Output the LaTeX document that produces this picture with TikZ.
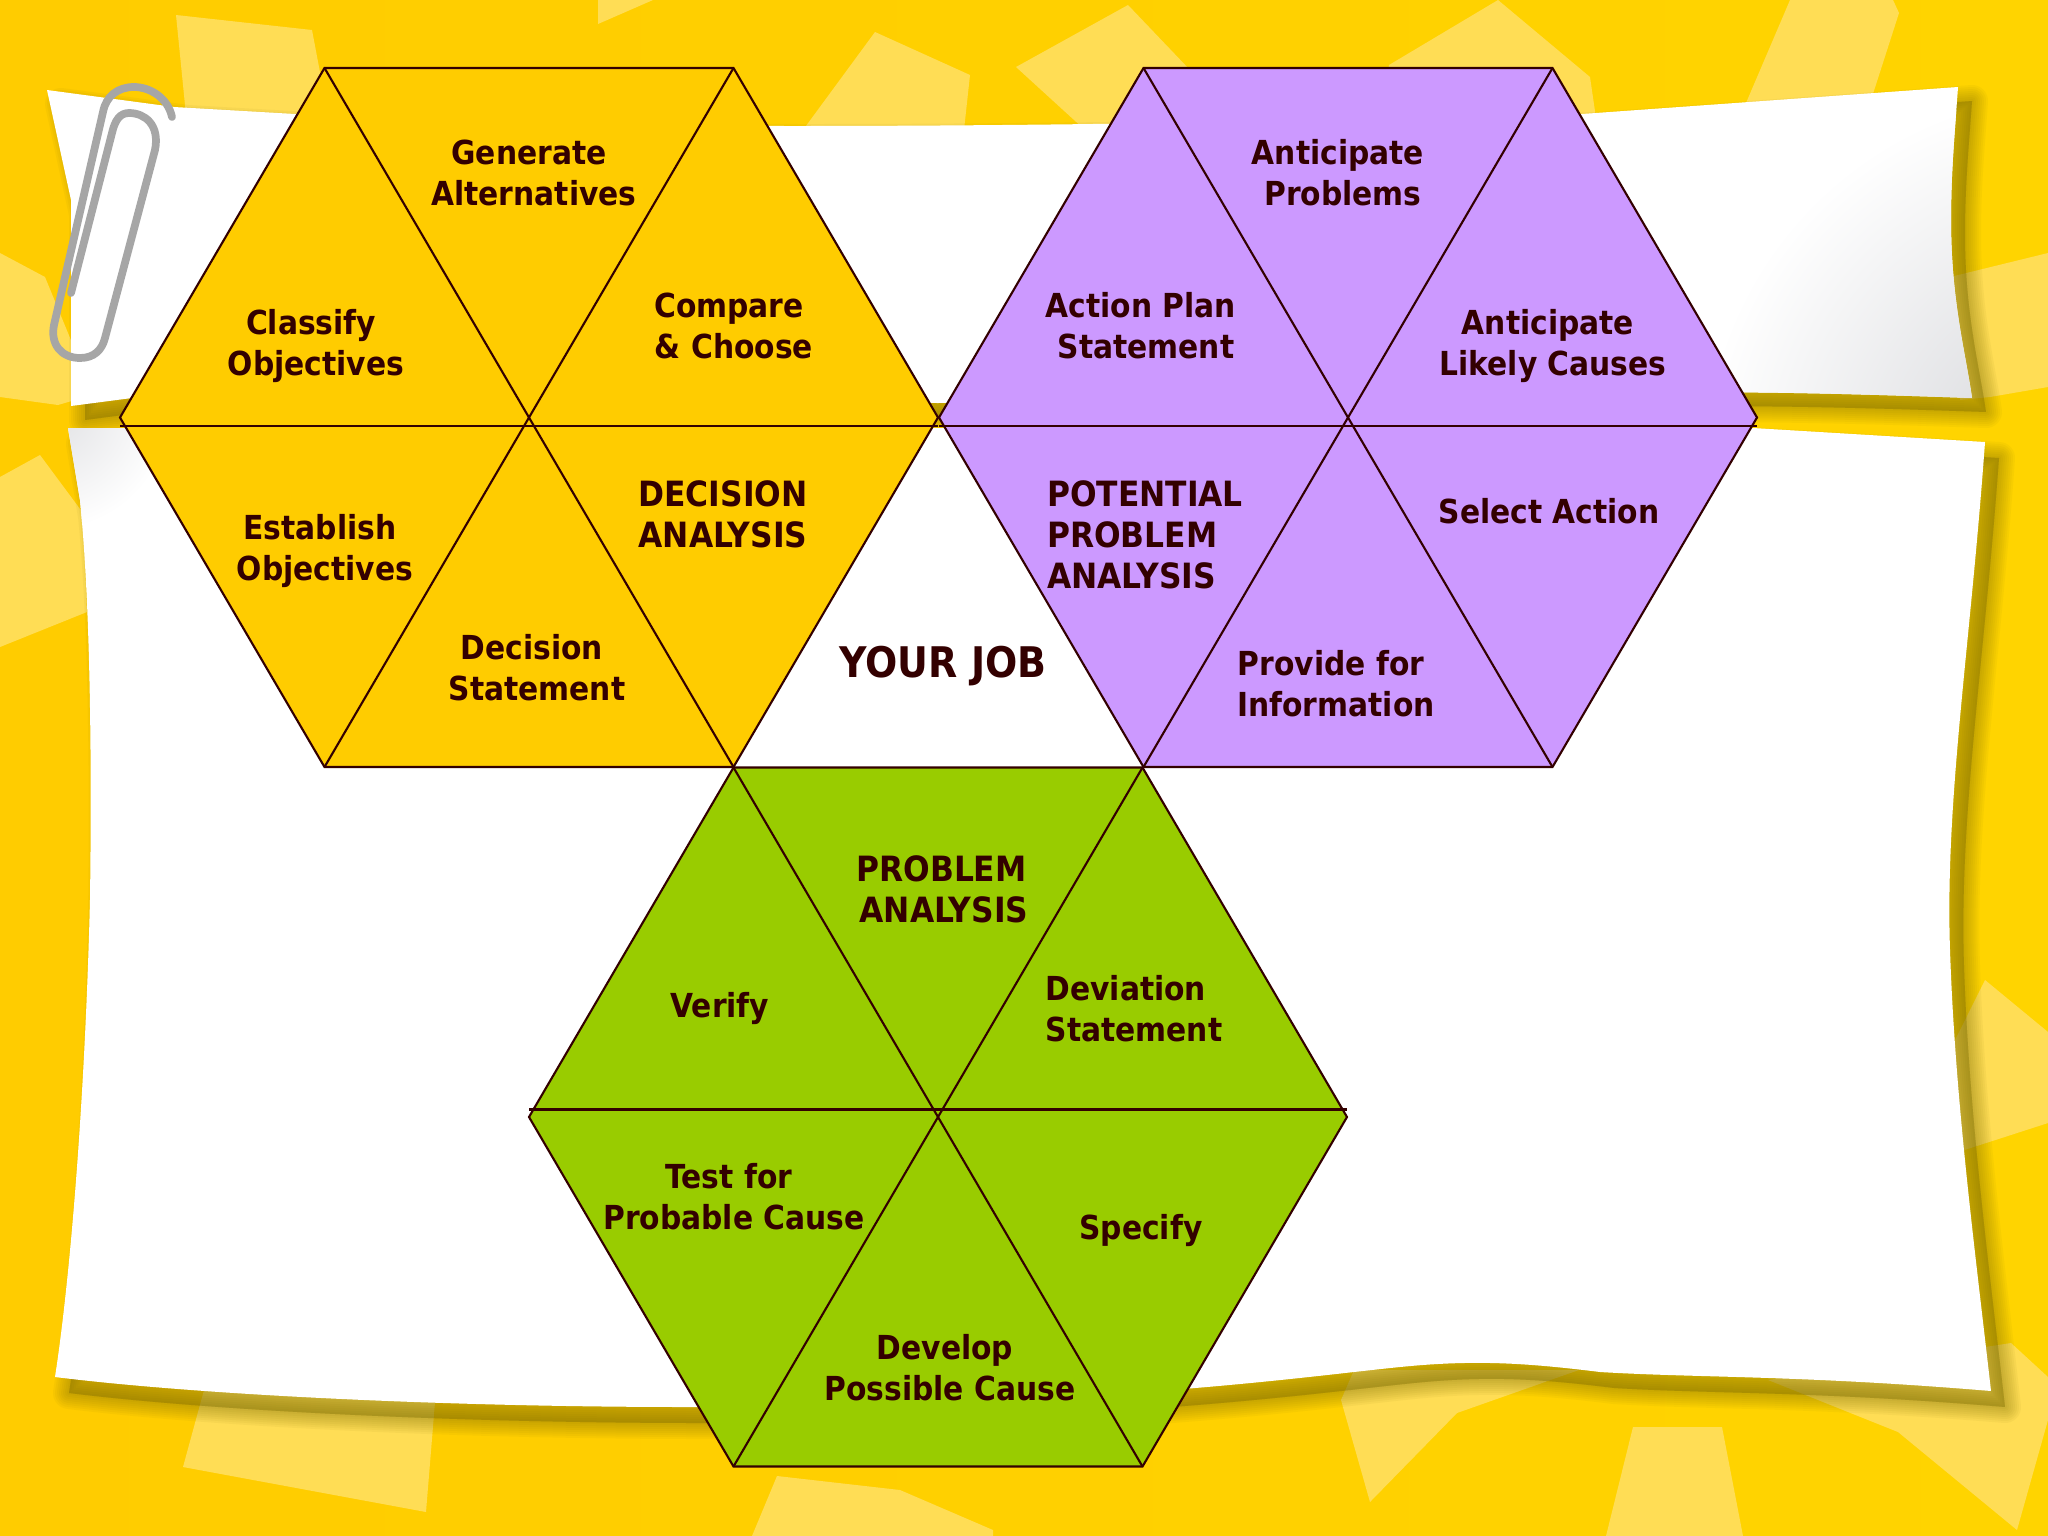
\documentclass[tikz,border=0pt]{standalone}
\usepackage{fontspec}
\setmainfont{DejaVu Sans Condensed}[BoldFont=DejaVu Sans Condensed Bold]
\definecolor{bgleft}{HTML}{FFCC00}
\definecolor{bgright}{HTML}{FFD400}
\definecolor{patch}{HTML}{FFDD55}
\definecolor{hexorange}{HTML}{FFCC00}
\definecolor{hexpurple}{HTML}{CC99FF}
\definecolor{hexgreen}{HTML}{99CC00}
\definecolor{labelink}{HTML}{330000}
\definecolor{clipgray}{HTML}{A6A6A6}
\definecolor{shadowtone}{HTML}{7A6A00}
\definecolor{paperdim}{HTML}{D3D4D8}
\newcommand{\papertop}{(47,90) -- (174,107) -- (295,114) .. controls (500,130) and (1000,130) .. (1582,114) -- (1958,87) .. controls (1955,130) and (1951,170) .. (1951,220) .. controls (1951,300) and (1965,350) .. (1972,398) .. controls (1800,392) and (1700,390) .. (1500,395) -- (938,403) -- (132,398) -- (71,406) -- (71,200) -- cycle}
\newcommand{\paperlow}{(68,428) -- (1753,428) -- (1985,442) .. controls (1970,650) and (1945,800) .. (1950,950) .. controls (1955,1100) and (1975,1250) .. (1991,1391) .. controls (1800,1375) and (1700,1378) .. (1600,1372) .. controls (1520,1362) and (1470,1360) .. (1400,1367) .. controls (1300,1377) and (1100,1407) .. (689,1407) .. controls (450,1407) and (200,1395) .. (55,1377) .. controls (70,1280) and (85,1100) .. (90,900) .. controls (92,750) and (90,600) .. (80,500) -- cycle}
\tikzset{
  patchshape/.style={fill=patch},
  paperedge/.style={draw=shadowtone,opacity=0.055,line join=round},
  hexline/.style={draw=labelink,line width=0.6pt},
  celltext/.style={font=\fontsize{9.4}{11.63}\selectfont\bfseries,text=labelink,align=center,inner sep=0pt},
  capstext/.style={celltext,font=\fontsize{9.9}{11.63}\selectfont\bfseries}
}
\newcommand{\lineoff}{\hspace*{0.1cm}}
\begin{document}
\begin{tikzpicture}[x=0.01cm,y=-0.01cm]
  \useasboundingbox (0,0) rectangle (2048,1536);
  \shade[left color=bgleft,right color=bgright] (0,0) rectangle (2048,1536);
  \fill[patchshape] (176,15) -- (312,30) -- (330,125) -- (187,125) -- cycle;
  \fill[patchshape] (598,0) -- (653,0) -- (598,24) -- cycle;
  \fill[patchshape] (875,32) -- (970,75) -- (964,130) -- (803,130) -- cycle;
  \fill[patchshape] (1128,5) -- (1190,70) -- (1190,130) -- (1085,130) -- (1016,67) -- cycle;
  \fill[patchshape] (1498,0) -- (1590,77) -- (1597,125) -- (1380,125) -- (1389,65) -- cycle;
  \fill[patchshape] (1790,0) -- (1893,0) -- (1899,13) -- (1871,100) -- (1743,110) -- cycle;
  \fill[patchshape] (1950,277) -- (2048,253) -- (2048,387) -- (1990,397) -- (1960,400) -- cycle;
  \fill[patchshape] (0,253) -- (45,277) -- (75,350) -- (75,400) -- (58,405) -- (0,397) -- cycle;
  \fill[patchshape] (0,477) -- (40,455) -- (83,513) -- (87,612) -- (0,647) -- cycle;
  \fill[patchshape] (1946,1058) -- (1985,980) -- (2048,1032) -- (2048,1123) -- (1946,1156) -- cycle;
  \fill[patchshape] (204,1390) -- (436,1390) -- (426,1512) -- (183,1467) -- cycle;
  \fill[patchshape] (777,1476) -- (900,1490) -- (993,1530) -- (993,1536) -- (752,1536) -- cycle;
  \fill[patchshape] (1341,1400) -- (1354,1370) -- (1579,1370) -- (1457,1413) -- (1370,1502) -- cycle;
  \fill[patchshape] (1633,1427) -- (1722,1427) -- (1743,1536) -- (1606,1536) -- cycle;
  \fill[patchshape] (1768,1380) -- (1898,1432) -- (2017,1530) -- (2048,1420) -- (2048,1377) -- (2011,1343) -- cycle;
  \foreach \w in {4,8,12,16,20,24,28,32} {
    \path[paperedge,fill=shadowtone,line width=\w*0.01cm,shift={(14,14)}] \papertop;
    \path[paperedge,fill=shadowtone,line width=\w*0.01cm,shift={(14,16)}] \paperlow;
  }
  \fill[white] \paperlow;
  \begin{scope}
    \clip \paperlow;
    \shade[inner color=paperdim!70!white,outer color=white] (50,410) circle (120);
  \end{scope}
  \fill[white] \papertop;
  \begin{scope}
    \clip \papertop;
    \shade[inner color=paperdim,outer color=white] (2080,470) circle (380);
  \end{scope}
  \draw[clipgray,line width=2.2pt,line cap=round,line join=round] (172,117) .. controls (168,98) and (150,87) .. (134,87) .. controls (118,87) and (106,96) .. (103,112) -- (54,325) .. controls (50,345) and (62,358) .. (80,358) .. controls (94,358) and (102,350) .. (105,338) -- (155,150) .. controls (160,125) and (145,113) .. (129,113) .. controls (120,113) and (115,120) .. (112,133) -- (71,293);
  \foreach \cx/\cy/\ly/\cl in {529/417.5/8.5/hexorange,1348/417.5/8.5/hexpurple,938/1117/-7.5/hexgreen} {
    \begin{scope}[shift={(\cx,\cy)}]
      \filldraw[hexline,fill=\cl] (-204.5,-349.5) -- (204.5,-349.5) -- (409,0) -- (204.5,349.5) -- (-204.5,349.5) -- (-409,0) -- cycle;
      \draw[hexline] (-204.5,-349.5) -- (204.5,349.5);
      \draw[hexline] (204.5,-349.5) -- (-204.5,349.5);
      \draw[hexline] (-409,\ly) -- (409,\ly);
    \end{scope}
  }
  \node[celltext] (generate) at (534,173) {Generate\lineoff\\Alternatives};
  \node[celltext] (classify) at (316,346) {Classify\lineoff\\Objectives};
  \node[celltext] (compare) at (734,326) {Compare\lineoff\\\& Choose};
  \node[celltext] (establish) at (325,551) {Establish\lineoff\\Objectives};
  \node[celltext] (decstatement) at (537,668) {Decision\lineoff\\Statement};
  \node[capstext] (decanalysis) at (723,514) {DECISION\\ANALYSIS};
  \node[celltext,font=\fontsize{12}{14}\selectfont\bfseries] (yourjob) at (943,666) {YOUR JOB};
  \node[celltext] (anticipate) at (1343,173) {Anticipate\lineoff\\Problems};
  \node[celltext] (actionplan) at (1146,326) {Action Plan\lineoff\\Statement};
  \node[celltext] (likely) at (1553,346) {Anticipate\lineoff\\Likely Causes};
  \node[capstext,align=left] (potential) at (1145,535) {POTENTIAL\\PROBLEM\\ANALYSIS};
  \node[celltext] (select) at (1549,511) {Select Action};
  \node[celltext] (provide) at (1336,684) {Provide for\lineoff\\Information};
  \node[capstext] (probanalysis) at (944,889) {PROBLEM\hspace*{0.05cm}\\ANALYSIS};
  \node[celltext] (verify) at (720,1008) {Verify};
  \node[celltext,align=left] (deviation) at (1134,1009) {Deviation\\Statement};
  \node[celltext] (testfor) at (734,1197) {Test for\lineoff\\Probable Cause};
  \node[celltext] (specify) at (1141,1230) {Specify};
  \node[celltext] (develop) at (950,1368) {Develop\lineoff\\Possible Cause};
\end{tikzpicture}
\end{document}
